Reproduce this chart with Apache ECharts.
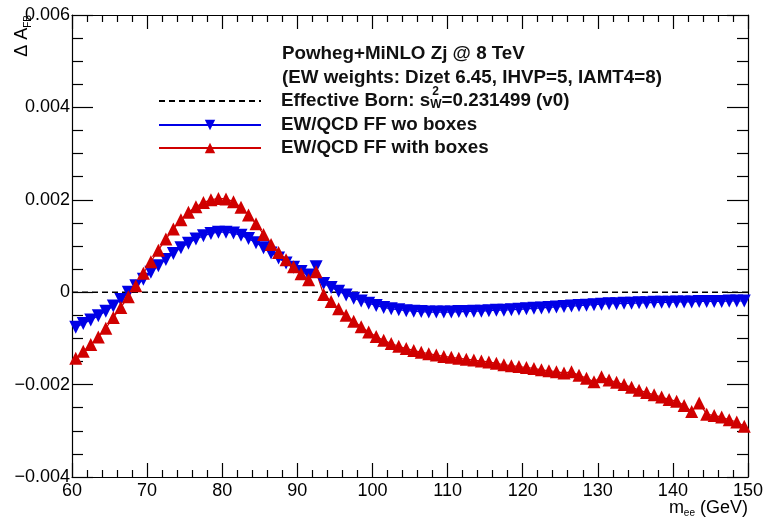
<!DOCTYPE html>
<html>
<head>
<meta charset="utf-8">
<script src="https://cdn.jsdelivr.net/npm/echarts@6/dist/echarts.min.js"></script>
<style>
  html, body { margin: 0; padding: 0; background: #fff; }
  #chart { width: 764px; height: 518px; }
</style>
</head>
<body>
<div id="chart"></div>
<script>
// Bin centres of the dilepton mass (GeV)
const massBins = [
  60.5, 61.5, 62.5, 63.5, 64.5, 65.5, 66.5, 67.5, 68.5, 69.5,
  70.5, 71.5, 72.5, 73.5, 74.5, 75.5, 76.5, 77.5, 78.5, 79.5,
  80.5, 81.5, 82.5, 83.5, 84.5, 85.5, 86.5, 87.5, 88.5, 89.5,
  90.5, 91.5, 92.5, 93.5, 94.5, 95.5, 96.5, 97.5, 98.5, 99.5,
  100.5, 101.5, 102.5, 103.5, 104.5, 105.5, 106.5, 107.5, 108.5, 109.5,
  110.5, 111.5, 112.5, 113.5, 114.5, 115.5, 116.5, 117.5, 118.5, 119.5,
  120.5, 121.5, 122.5, 123.5, 124.5, 125.5, 126.5, 127.5, 128.5, 129.5,
  130.5, 131.5, 132.5, 133.5, 134.5, 135.5, 136.5, 137.5, 138.5, 139.5,
  140.5, 141.5, 142.5, 143.5, 144.5, 145.5, 146.5, 147.5, 148.5, 149.5
];

// Delta A_FB, EW/QCD form factors without boxes
const woBoxes = [
  -0.00076, -0.00068, -0.00060, -0.00051, -0.00041, -0.00030, -0.00016, 0.00000, 0.00014, 0.00028,
  0.00043, 0.00057, 0.00071, 0.00084, 0.00096, 0.00106, 0.00115, 0.00122, 0.00127, 0.00130,
  0.00130, 0.00128, 0.00123, 0.00116, 0.00107, 0.00096, 0.00085, 0.00074, 0.00063, 0.00054,
  0.00045, 0.00037, 0.00055, 0.00019, 0.00010, 0.00002, -0.00006, -0.00013, -0.00019, -0.00024,
  -0.00029, -0.00033, -0.00036, -0.00038, -0.00040, -0.00041, -0.00042, -0.00043, -0.00043, -0.00043,
  -0.00043, -0.00042, -0.00042, -0.00041, -0.00041, -0.00040, -0.00039, -0.00039, -0.00038, -0.00037,
  -0.00036, -0.00035, -0.00034, -0.00033, -0.00032, -0.00031, -0.00030, -0.00029, -0.00028, -0.00027,
  -0.00026, -0.00025, -0.00025, -0.00024, -0.00024, -0.00023, -0.00023, -0.00022, -0.00022, -0.00022,
  -0.00021, -0.00021, -0.00021, -0.00020, -0.00020, -0.00020, -0.00020, -0.00019, -0.00019, -0.00019
];

// Delta A_FB, EW/QCD form factors with boxes
const withBoxes = [
  -0.00143, -0.00128, -0.00113, -0.00097, -0.00078, -0.00055, -0.00033, -0.00010, 0.00014, 0.00041,
  0.00066, 0.00091, 0.00115, 0.00137, 0.00157, 0.00173, 0.00185, 0.00194, 0.00200, 0.00203,
  0.00202, 0.00196, 0.00184, 0.00167, 0.00148, 0.00125, 0.00103, 0.00086, 0.00070, 0.00055,
  0.00040, 0.00027, 0.00044, -0.00005, -0.00020, -0.00036, -0.00050, -0.00063, -0.00075, -0.00086,
  -0.00096, -0.00104, -0.00111, -0.00117, -0.00122, -0.00126, -0.00130, -0.00133, -0.00136, -0.00139,
  -0.00141, -0.00143, -0.00145, -0.00147, -0.00149, -0.00151, -0.00154, -0.00157, -0.00159, -0.00161,
  -0.00163, -0.00165, -0.00168, -0.00170, -0.00172, -0.00175, -0.00172, -0.00180, -0.00186, -0.00194,
  -0.00183, -0.00190, -0.00195, -0.00200, -0.00206, -0.00212, -0.00217, -0.00222, -0.00227, -0.00232,
  -0.00236, -0.00245, -0.00258, -0.00240, -0.00264, -0.00267, -0.00270, -0.00276, -0.00281, -0.00290
];

// Effective Born reference (zero line) end points
const bornX = [60, 150];
const bornY = [0, 0];

// Axis ranges
const xRange = [60, 150];
const yRange = [-0.004, 0.006];

const FONT = '"Liberation Sans", Arial, Helvetica, sans-serif';
const BLUE = '#0000e6';
const RED = '#d00000';
const LEG_SIZE = 18.8;
const MARK = 13;

function pairs(xs, ys) { return xs.map((x, i) => [x, ys[i]]); }

function yLabel(v) {
  if (Math.abs(v) < 1e-12) return '0';
  return (v < 0 ? '\u2212' : '') + Math.abs(v).toFixed(3);
}

// text width of the legend prefix, for placing the stacked exponent
const measureCtx = document.createElement('canvas').getContext('2d');
measureCtx.font = 'bold ' + LEG_SIZE + 'px ' + FONT;
const prefixW = measureCtx.measureText('Effective Born: s').width;
const textLeft = 282;

function axisCommon(pos) {
  return {
    type: 'value',
    position: pos,
    axisLine: { show: true, onZero: false, lineStyle: { color: '#000', width: 1.2 } },
    splitLine: { show: false },
    axisLabel: { show: false },
    showMinLabel: true, showMaxLabel: true
  };
}

const xBase = {
  min: xRange[0], max: xRange[1], interval: 10,
  axisTick: { show: true, inside: true, length: 14, lineStyle: { color: '#000', width: 1.2 } },
  minorTick: { show: true, splitNumber: 5, length: 7, lineStyle: { color: '#000', width: 1.2 } }
};
const yBase = {
  min: yRange[0], max: yRange[1], interval: 0.002,
  axisTick: { show: true, inside: true, length: 21, lineStyle: { color: '#000', width: 1.2 } },
  minorTick: { show: true, splitNumber: 4, length: 11, lineStyle: { color: '#000', width: 1.2 } }
};

const legendText = {
  fontFamily: FONT, fontWeight: 'bold', fontSize: LEG_SIZE, color: '#111',
  lineHeight: 20, padding: [0, 0, 0, 15],
  rich: {
    t: { fontFamily: FONT, fontWeight: 'bold', fontSize: LEG_SIZE, color: '#111', lineHeight: 20 },
    w: { fontFamily: FONT, fontWeight: 'bold', fontSize: 12, color: '#111', lineHeight: 8, verticalAlign: 'bottom' }
  }
};
function legendAt(name, cy, extra) {
  return Object.assign({
    data: [name], orient: 'vertical', left: 158, top: cy - 10, padding: 0,
    itemWidth: 102, itemHeight: 13, selectedMode: false,
    textStyle: legendText,
    formatter: n => n === 'Effective Born'
      ? '{t|Effective Born: s}{w|W}{t|=0.231499 (v0)}'
      : '{t|' + n + '}'
  }, extra || {});
}

const chart = echarts.init(document.getElementById('chart'), null, { renderer: 'canvas' });
chart.setOption({
  animation: false,
  backgroundColor: '#fff',
  grid: { left: 72, right: 16, top: 15, bottom: 41, containLabel: false, outerBoundsMode: 'none' },
  xAxis: [
    Object.assign(axisCommon('bottom'), xBase, {
      axisLabel: { show: true, color: '#000', fontFamily: FONT, fontSize: 18, margin: 5 }
    }),
    Object.assign(axisCommon('top'), xBase)
  ],
  yAxis: [
    Object.assign(axisCommon('left'), yBase, {
      axisLabel: { show: true, color: '#000', fontFamily: FONT, fontSize: 18, margin: 2, formatter: yLabel }
    }),
    Object.assign(axisCommon('right'), yBase)
  ],
  legend: [
    legendAt('Effective Born', 101, { itemStyle: { opacity: 0 } }),
    legendAt('EW/QCD FF wo boxes', 125),
    legendAt('EW/QCD FF with boxes', 148)
  ],
  series: [
    {
      name: 'EW/QCD FF wo boxes', type: 'line', xAxisIndex: 0, yAxisIndex: 0,
      data: pairs(massBins, woBoxes),
      symbol: 'triangle', symbolRotate: 180, symbolSize: [MARK, MARK],
      itemStyle: { color: BLUE }, lineStyle: { color: BLUE, width: 1.2 }
    },
    {
      name: 'EW/QCD FF with boxes', type: 'line', xAxisIndex: 0, yAxisIndex: 0,
      data: pairs(massBins, withBoxes),
      symbol: 'triangle', symbolSize: [MARK, MARK],
      itemStyle: { color: RED }, lineStyle: { color: RED, width: 1.2 }
    },
    {
      name: 'Effective Born', type: 'line', xAxisIndex: 0, yAxisIndex: 0,
      data: pairs(bornX, bornY), symbol: 'none',
      itemStyle: { color: '#000' },
      lineStyle: { color: '#000', width: 1.4, type: [6, 4] }
    }
  ],
  graphic: [
    {
      type: 'text', left: textLeft, top: 44, silent: true,
      style: { text: 'Powheg+MiNLO Zj @ 8 TeV', fontFamily: FONT, fontWeight: 'bold', fontSize: LEG_SIZE, fill: '#111' }
    },
    {
      type: 'text', left: textLeft, top: 68, silent: true,
      style: { text: '(EW weights: Dizet 6.45, IHVP=5, IAMT4=8)', fontFamily: FONT, fontWeight: 'bold', fontSize: LEG_SIZE, fill: '#111' }
    },
    {
      type: 'text', x: textLeft + prefixW + 1, y: 92, silent: true,
      style: { text: '2', fontFamily: FONT, fontWeight: 'bold', fontSize: 12, fill: '#111', verticalAlign: 'middle' }
    },
    {
      // y-axis title, reading upward, ending at the frame top
      type: 'text', x: 22, y: 15, rotation: Math.PI / 2, silent: true,
      style: {
        text: '{a|\u0394 A}{b|FB}', align: 'right', verticalAlign: 'middle',
        rich: {
          a: { fontFamily: FONT, fontSize: 18, fill: '#000', lineHeight: 22 },
          b: { fontFamily: FONT, fontSize: 10, fill: '#000', lineHeight: 10, verticalAlign: 'bottom' }
        }
      }
    },
    {
      // x-axis title, right-aligned to the frame end
      type: 'text', x: 748, y: 508, silent: true,
      style: {
        text: '{a|m}{b|ee}{a| (GeV)}', align: 'right', verticalAlign: 'middle',
        rich: {
          a: { fontFamily: FONT, fontSize: 18, fill: '#000', lineHeight: 20 },
          b: { fontFamily: FONT, fontSize: 10, fill: '#000', lineHeight: 8, verticalAlign: 'bottom' }
        }
      }
    }
  ]
});
</script>
</body>
</html>
